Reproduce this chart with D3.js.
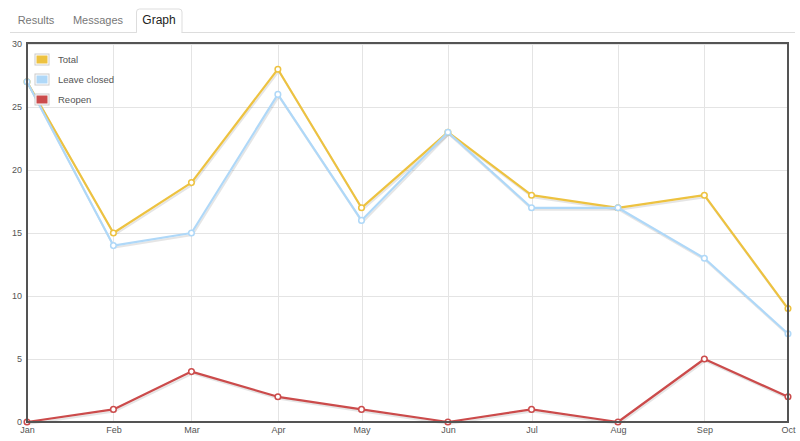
<!DOCTYPE html>
<html><head><meta charset="utf-8">
<script src="https://cdn.jsdelivr.net/npm/d3@7"></script>
<style>
body{margin:0;background:#fff;font-family:Arial,"Liberation Sans",sans-serif;}
</style></head>
<body><svg id="c" width="800" height="441"></svg>
<script>
const months = ["Jan","Feb","Mar","Apr","May","Jun","Jul","Aug","Sep","Oct"];
const seriesNames = ["Total","Leave closed","Reopen"];
const totalValues = [27,15,19,28,17,23,18,17,18,9];
const leaveClosedValues = [27,14,15,26,16,23,17,17,13,7];
const reopenValues = [0,1,4,2,1,0,1,0,5,2];
const yTicks = [0,5,10,15,20,25,30];
const colors = ["#edc240","#afd8f8","#cb4b4b"];
const tabs = ["Results","Messages","Graph"];

const svg = d3.select("#c");
const dates = months.map((m,i)=>new Date(Date.UTC(2023,i,1)));
const L=27,R=788,T=44,B=422;
const x = d3.scaleUtc().domain([dates[0],dates[dates.length-1]]).range([L,R]);
const y = d3.scaleLinear().domain([0,30]).range([B,T]);

// tabs
svg.append("line").attr("x1",10).attr("x2",795).attr("y1",32.5).attr("y2",32.5).attr("stroke","#ddd");
svg.append("path").attr("d","M136.5,32.5 V12 q0,-3 3,-3 H179 q3,0 3,3 V32.5").attr("fill","#fff").attr("stroke","#ddd");
svg.append("rect").attr("x",137).attr("y",31).attr("width",44).attr("height",3).attr("fill","#fff");
const tabX=[36,98,159];
tabs.forEach((t,i)=>svg.append("text").attr("x",tabX[i]).attr("y",24).attr("text-anchor","middle")
  .attr("font-size",i==2?12:11).attr("fill",i==2?"#222":"#777").text(t));

// grid
const g = svg.append("g");
g.selectAll(".hg").data(yTicks).join("line").attr("x1",L).attr("x2",R)
  .attr("y1",d=>Math.round(y(d))+0.5).attr("y2",d=>Math.round(y(d))+0.5).attr("stroke","#e4e4e4");
g.selectAll(".vg").data(dates).join("line").attr("y1",T).attr("y2",B)
  .attr("x1",d=>Math.round(x(d))+0.5).attr("x2",d=>Math.round(x(d))+0.5).attr("stroke","#e4e4e4");

// axis labels
const yAxis = d3.axisLeft(y).tickValues(yTicks).tickSize(0).tickPadding(5);
const ya = svg.append("g").attr("transform",`translate(${L},0)`).call(yAxis);
ya.select(".domain").remove();
ya.selectAll("text").attr("font-size",9).attr("fill","#545454").attr("font-family","Arial,'Liberation Sans',sans-serif");
const xAxis = d3.axisBottom(x).tickValues(dates).tickFormat((d,i)=>months[i]).tickSize(0).tickPadding(5);
const xa = svg.append("g").attr("transform",`translate(0,${B})`).call(xAxis);
xa.select(".domain").remove();
xa.selectAll("text").attr("font-size",9).attr("fill","#545454").attr("font-family","Arial,'Liberation Sans',sans-serif");

// series
const data = [totalValues,leaveClosedValues,reopenValues];
const line = d3.line().x((d,i)=>x(dates[i])).y(d=>y(d));
const sg = svg.append("g");
data.forEach((vals,si)=>{
  const c=colors[si];
  sg.append("path").datum(vals).attr("d",line).attr("fill","none").attr("stroke","rgba(0,0,0,0.1)")
    .attr("stroke-width",2).attr("transform","translate(1,2)").attr("stroke-linejoin","round");
  sg.append("path").datum(vals).attr("d",line).attr("fill","none").attr("stroke",c)
    .attr("stroke-width",2.2).attr("stroke-linejoin","round");
  sg.selectAll(null).data(vals).join("circle").attr("cx",(d,i)=>x(dates[i])).attr("cy",d=>y(d))
    .attr("r",2.8).attr("fill","#fff").attr("stroke",c).attr("stroke-width",1.5);
});

// border
svg.append("rect").attr("x",L).attr("y",T-1).attr("width",R-L).attr("height",B-T+1)
  .attr("fill","none").attr("stroke","#545454").attr("stroke-width",2);

// legend
const lg = svg.append("g");
seriesNames.forEach((n,i)=>{
  const yy=54+i*20;
  lg.append("rect").attr("x",35).attr("y",yy).attr("width",14).attr("height",11).attr("fill","#fff").attr("stroke","#ccc");
  lg.append("rect").attr("x",36.5).attr("y",yy+1.5).attr("width",11).attr("height",8).attr("fill",colors[i]);
  lg.append("text").attr("x",58).attr("y",yy+9).attr("font-size",9.5).attr("fill","#545454").text(n);
});
</script></body></html>
